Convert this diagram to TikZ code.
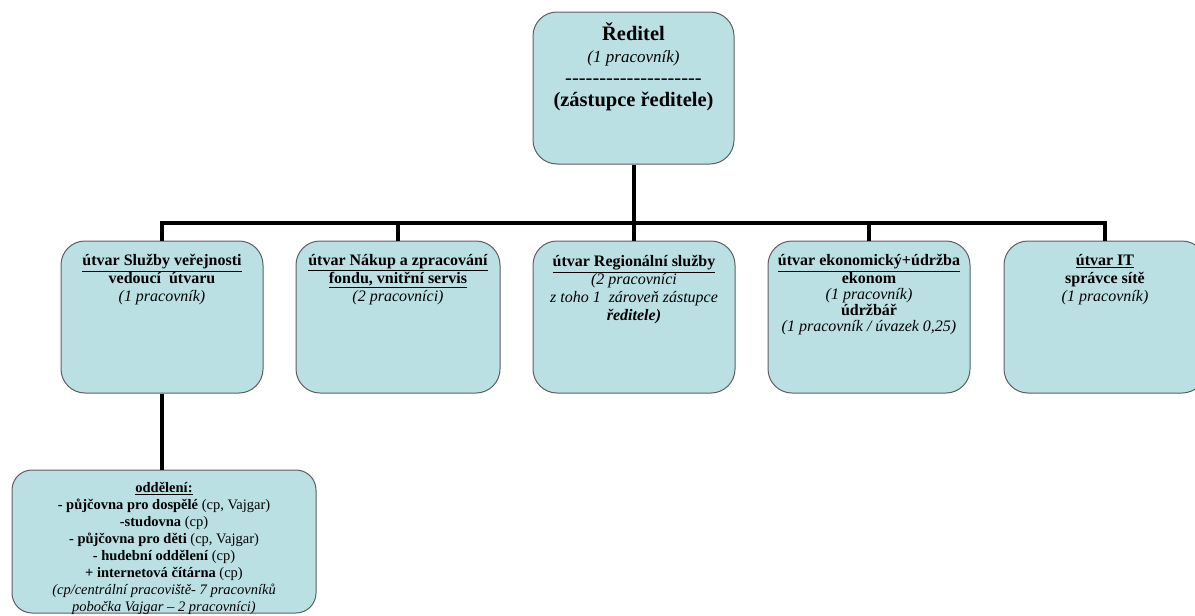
\documentclass[tikz,border=0pt]{standalone}
\usepackage{fontspec}
\setmainfont{Liberation Serif}
\definecolor{boxfill}{RGB}{186,224,228}
\definecolor{boxline}{RGB}{95,95,95}
\begin{document}
\begin{tikzpicture}[x=1pt,y=-1pt,
  box/.style={draw=boxline, line width=1pt, fill=boxfill, rounded corners=24pt, inner sep=0pt},
  conn/.style={line width=4pt, black, line join=miter},
  txt/.style={anchor=north, inner sep=0pt, align=center, font=\fontsize{16}{18}\selectfont}]
\useasboundingbox (0,0) rectangle (1195,616);
\clip (0,0) rectangle (1195,616);
% boxes
\node[box, minimum width=201pt, minimum height=152pt] (top) at (633.5,88) {};
\node[box, minimum width=202pt, minimum height=152pt] (s1) at (162,317) {};
\node[box, minimum width=204pt, minimum height=152pt] (s2) at (398,317) {};
\node[box, minimum width=202pt, minimum height=152pt] (s3) at (634,317) {};
\node[box, minimum width=202pt, minimum height=152pt] (s4) at (869,317) {};
\node[box, minimum width=202pt, minimum height=152pt] (s5) at (1105,317) {};
\node[box, minimum width=304pt, minimum height=143pt, rounded corners=20pt] (dep) at (164,541.5) {};
% connectors
\coordinate (bus) at (633,223);
\draw[conn] (top.south) -- (top.south |- bus);
\draw[conn] (s1.north) -- (s1.north |- bus) -- (s5.north |- bus) -- (s5.north);
\foreach \s in {s2,s3,s4} \draw[conn] (\s.north) -- (\s.north |- bus);
\draw[conn] (s1.south) -- (s1.south |- dep.north);
% texts
\node[txt, font=\fontsize{20.5}{22}\selectfont] (t0) at ([yshift=-11pt]top.north)
  {\textbf{Ředitel}\\ {\fontsize{17}{22}\selectfont\textit{(1 pracovník)}}\\
   -{}-{}-{}-{}-{}-{}-{}-{}-{}-{}-{}-{}-{}-{}-{}-{}-{}-{}-{}-{}\\
   \textbf{(zástupce ředitele)}};
\node[txt] (t1) at ([yshift=-14pt]s1.north)
  {\underline{\textbf{útvar Služby veřejnosti}}\\ \textbf{vedoucí\ \ útvaru}\\ \textit{(1 pracovník)}};
\node[txt] (t2) at ([yshift=-14pt]s2.north)
  {\underline{\textbf{útvar Nákup a zpracování}}\\ \underline{\textbf{fondu, vnitřní servis}}\\ \textit{(2 pracovníci)}};
\node[txt] (t3) at ([yshift=-15pt]s3.north)
  {\underline{\textbf{útvar Regionální služby}}\\ \textit{(2 pracovníci}\\ \textit{z toho 1\ \ zároveň zástupce}\\ \textbf{\textit{ředitele)}}};
\node[txt, font=\fontsize{16}{16}\selectfont] (t4) at ([yshift=-14pt]s4.north)
  {\underline{\textbf{útvar ekonomický+údržba}}\\ \textbf{ekonom}\\ \textit{(1 pracovník)}\\ \textbf{údržbář}\\ \textit{(1 pracovník / úvazek 0,25)}};
\node[txt] (t5) at ([yshift=-14pt]s5.north)
  {\underline{\textbf{útvar IT}}\\ \textbf{správce sítě}\\ \textit{(1 pracovník)}};
\node[txt, font=\fontsize{14.5}{17}\selectfont] (t6) at ([yshift=-12.5pt]dep.north)
  {\underline{\textbf{oddělení:}}\\
   \textbf{- půjčovna pro dospělé} (cp, Vajgar)\\
   \textbf{-studovna} (cp)\\
   \textbf{- půjčovna pro děti} (cp, Vajgar)\\
   \textbf{- hudební oddělení} (cp)\\
   \textbf{+ internetová čítárna} (cp)\\
   \textit{(cp/centrální pracoviště- 7 pracovníků}\\
   \textit{pobočka Vajgar – 2 pracovníci)}};
\end{tikzpicture}
\end{document}
